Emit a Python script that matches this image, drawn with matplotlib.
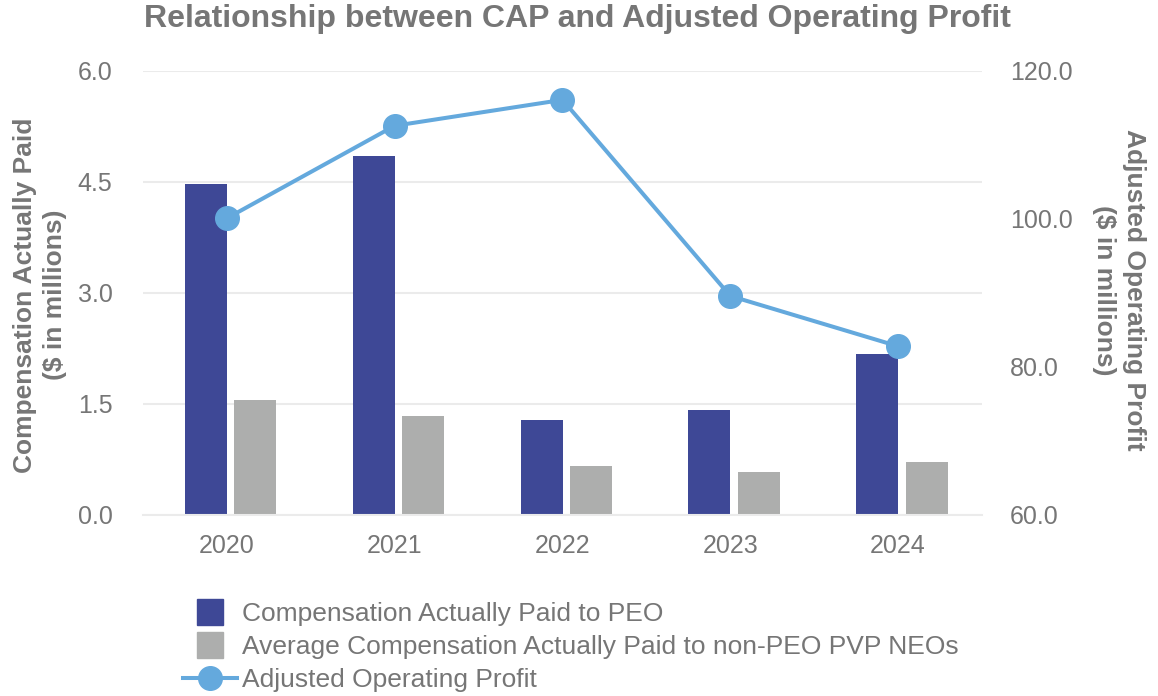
import matplotlib
matplotlib.use("Agg")
import matplotlib.pyplot as plt
from matplotlib.lines import Line2D
import numpy as np

years = ["2020", "2021", "2022", "2023", "2024"]
cap_peo = [4.47, 4.85, 1.28, 1.42, 2.18]
cap_neo = [1.55, 1.34, 0.66, 0.58, 0.72]
adj_op_profit = [100.1, 112.6, 116.1, 89.6, 82.8]

left_ticks = [0.0, 1.5, 3.0, 4.5, 6.0]
right_ticks = [60.0, 80.0, 100.0, 120.0]

DARK = "#3E4896"
GRAY = "#ADAEAD"
LINE = "#64A9DD"
TXT = "#767676"
GRID = "#EBEBEB"

plt.rcParams["font.family"] = ["Liberation Sans", "DejaVu Sans"]

fig = plt.figure(figsize=(11.58, 6.96), dpi=100)
W, H = 1158, 696
ax_l, ax_r, ax_t, ax_b = 143, 982, 71, 515
ax = fig.add_axes([ax_l / W, 1 - ax_b / H, (ax_r - ax_l) / W, (ax_b - ax_t) / H])

x = np.arange(len(years))
bw = 0.25
ax.bar(x - bw, cap_peo, width=bw, align="edge", color=DARK, zorder=2)
ax.bar(x + 0.045, cap_neo, width=bw, align="edge", color=GRAY, zorder=2)

ax.set_xlim(-0.5, len(years) - 0.5)
ax.set_ylim(0, 6.0)
ax.set_yticks(left_ticks)
ax.set_yticklabels([f"{v:.1f}" for v in left_ticks])
ax.set_xticks(x)
ax.set_xticklabels(years)
ax.yaxis.grid(True, color=GRID, linewidth=1.5, zorder=0)
ax.set_axisbelow(True)
for s in ["top", "right", "left"]:
    ax.spines[s].set_visible(False)
ax.spines["bottom"].set_color(GRID)
ax.spines["bottom"].set_linewidth(1.5)
ax.tick_params(axis="both", length=0, labelsize=18, labelcolor=TXT)
ax.tick_params(axis="y", pad=22)
ax.tick_params(axis="x", pad=14)

ax2 = ax.twinx()
ax2.plot(x, adj_op_profit, color=LINE, linewidth=2.9, marker="o", markersize=17, zorder=3)
ax2.set_ylim(60, 120)
ax2.set_yticks(right_ticks)
ax2.set_yticklabels([f"{v:.1f}" for v in right_ticks])
for s in ["top", "right", "left", "bottom"]:
    ax2.spines[s].set_visible(False)
ax2.tick_params(axis="y", length=0, labelsize=18, labelcolor=TXT, pad=20)

fig.text(577 / W, 1 - 19 / H, "Relationship between CAP and Adjusted Operating Profit",
         ha="center", va="center", fontsize=23, fontweight="bold", color=TXT)
fig.text(40 / W, 1 - 295 / H, "Compensation Actually Paid\n($ in millions)",
         rotation=90, ha="center", va="center", fontsize=19, fontweight="bold",
         color=TXT, linespacing=1.3)
fig.text(1119 / W, 1 - 290 / H, "Adjusted Operating Profit\n($ in millions)",
         rotation=-90, ha="center", va="center", fontsize=19, fontweight="bold",
         color=TXT, linespacing=1.3)

handles = [
    Line2D([], [], linestyle="none", marker="s", markersize=18.5, color=DARK),
    Line2D([], [], linestyle="none", marker="s", markersize=18.5, color=GRAY),
    Line2D([], [], color=LINE, linewidth=2.9, marker="o", markersize=17),
]
labels = ["Compensation Actually Paid to PEO",
          "Average Compensation Actually Paid to non-PEO PVP NEOs",
          "Adjusted Operating Profit"]
leg = fig.legend(handles, labels, loc="upper left", bbox_to_anchor=(183 / W, 1 - 602 / H),
                 frameon=False, fontsize=19, labelcolor=TXT, handlelength=2.05,
                 handletextpad=0.2, labelspacing=0.34, borderpad=0, borderaxespad=0)

fig.savefig("out.png", dpi=100)
